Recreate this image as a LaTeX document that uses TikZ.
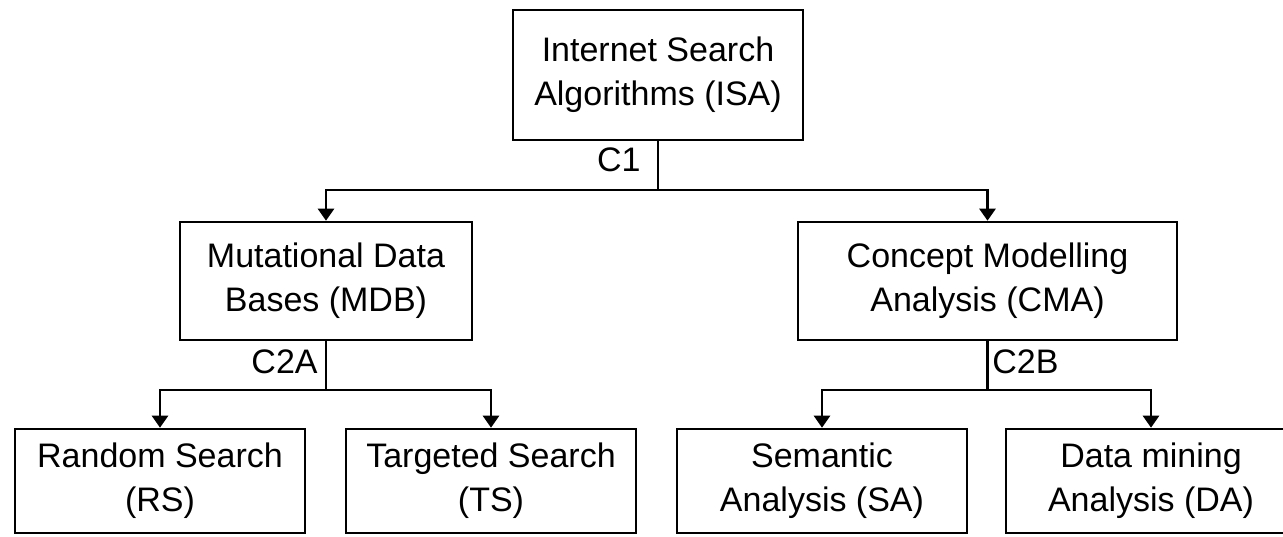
\documentclass[tikz,border=0pt]{standalone}
\usepackage{fontspec}
\setmainfont{Liberation Sans}
\usetikzlibrary{arrows.meta,positioning}

\begin{document}
\begin{tikzpicture}[
        x=0.5pt, y=-0.5pt,
        box/.style={
            draw=black,
            line width=1.3pt,
            align=center,
            inner sep=2pt,
            font=\fontsize{17}{22}\selectfont
        },
        root/.style={box, minimum width=145pt, minimum height=65pt},
        branch/.style={box, minimum height=59pt},
        leaf/.style={box, minimum width=145pt, minimum height=52pt},
        tag/.style={inner sep=0pt, font=\fontsize{17}{20}\selectfont},
        wire/.style={line width=1.3pt, draw=black},
        flow/.style={wire, -{Triangle[width=8pt, length=6pt]}}
    ]
        \useasboundingbox (0,0) rectangle (1283,536);

        \node[root] (isa) at (658,75) {Internet Search\\Algorithms (ISA)};
        \node[branch, minimum width=146pt] (mdb) at (326,281) {Mutational Data\\Bases (MDB)};
        \node[branch, minimum width=189.5pt] (cma) at (987.5,281) {Concept Modelling\\Analysis (CMA)};
        \node[leaf] (rs) at (160,481) {Random Search\\(RS)};
        \node[leaf] (ts) at (491,481) {Targeted Search\\(TS)};
        \node[leaf] (sa) at (822,481) {Semantic\\Analysis (SA)};
        \node[leaf] (da) at (1151,481) {Data mining\\Analysis (DA)};

        \coordinate (j1) at (658,190);
        \coordinate (j2) at (326,390);
        \coordinate (j3) at (987.5,390);

        \node[tag, anchor=east] (c1) at (641,160) {C1};
        \node[tag, anchor=east] (c2a) at (318,362) {C2A};
        \node[tag, anchor=west] (c2b) at (992,362) {C2B};

        \draw[wire] (isa.south) -- (j1);
        \draw[flow] (j1) -| (mdb.north);
        \draw[flow] (j1) -| (cma.north);
        \draw[wire] (mdb.south) -- (j2);
        \draw[flow] (j2) -| (rs.north);
        \draw[flow] (j2) -| (ts.north);
        \draw[wire] (cma.south) -- (j3);
        \draw[flow] (j3) -| (sa.north);
        \draw[flow] (j3) -| (da.north);
    \end{tikzpicture}
\end{document}
